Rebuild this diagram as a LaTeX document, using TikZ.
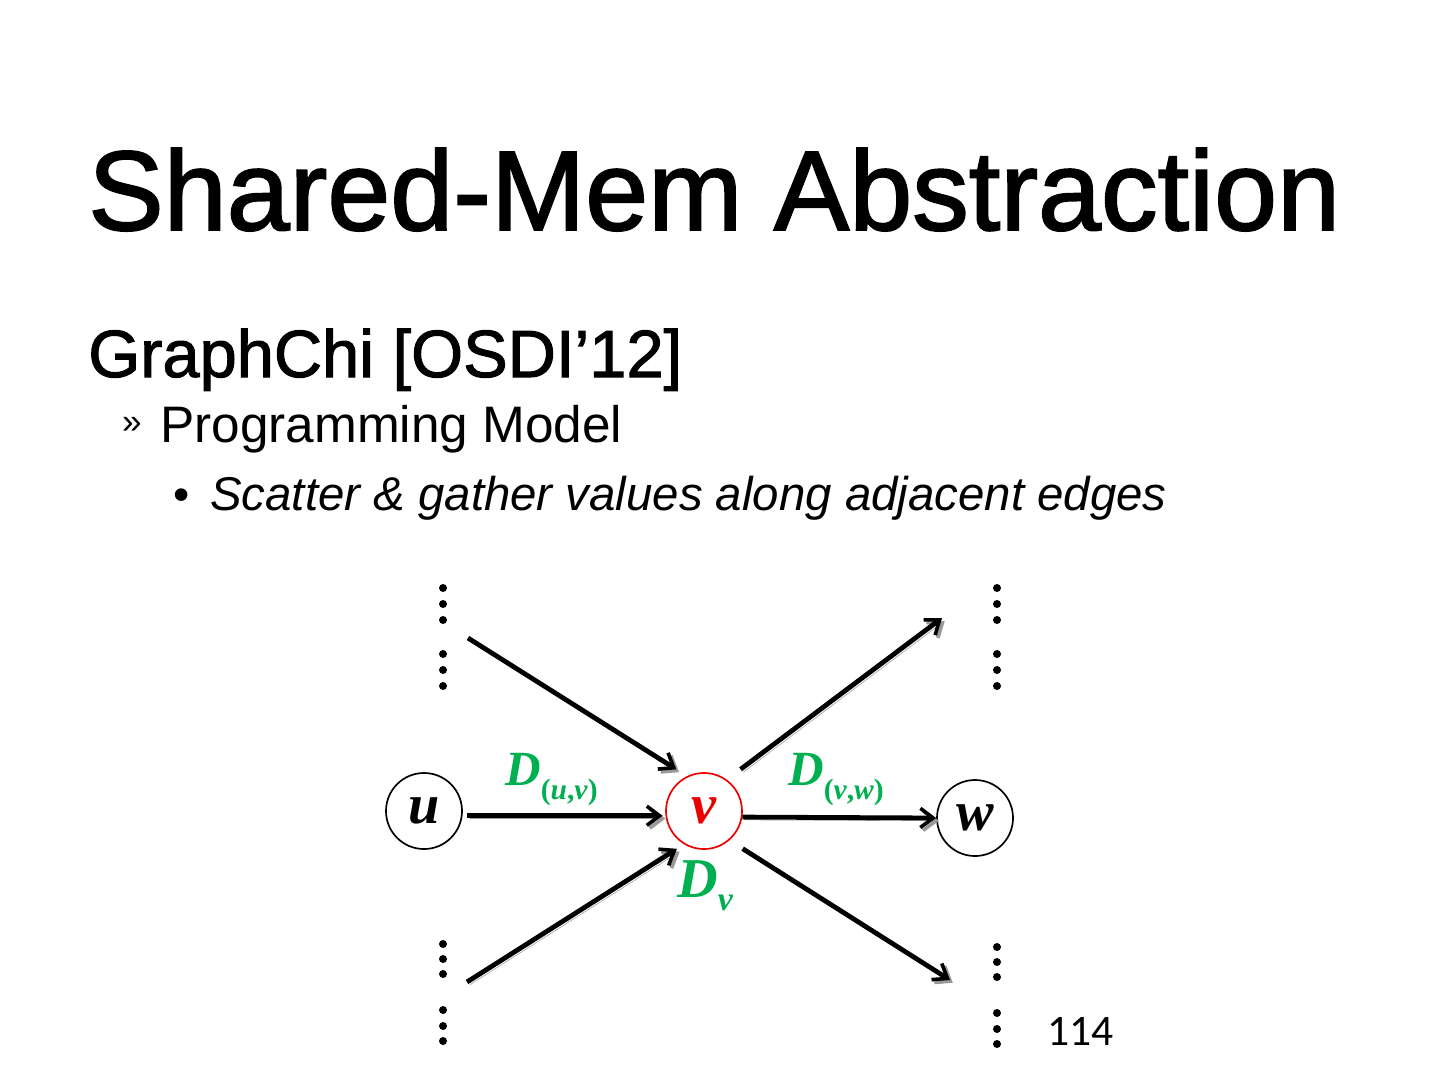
\documentclass[tikz,border=0pt]{standalone}
\usepackage{fontspec}
\setmainfont{Liberation Sans}
\newfontfamily\headfont{Liberation Sans}[FakeBold=1.6]
\newfontfamily\timesfont{Liberation Serif}
\newfontfamily\carlito{Carlito}
\usetikzlibrary{arrows.meta,positioning,calc}
\definecolor{dgreen}{RGB}{0,176,80}
\definecolor{vred}{RGB}{235,0,0}

\begin{document}
\begin{tikzpicture}[x=0.025cm, y=-0.025cm,
    vertex/.style={circle, draw, line width=1.2pt, minimum size=1.9cm, inner sep=0pt,
        font=\timesfont\bfseries\itshape\fontsize{40}{40}\selectfont},
    flow/.style={line width=0.12cm, -{Straight Barb[length=0.32cm,width=0.48cm,line width=0.09cm]},
        preaction={draw=black!40, transform canvas={shift={(0.07cm,-0.07cm)}}}},
    lbl/.style={text=dgreen, anchor=base west, inner sep=0pt,
        font=\timesfont\bfseries\itshape\fontsize{35}{35}\selectfont},
    txt/.style={anchor=base west, inner sep=0pt}]
    \useasboundingbox (0,0) rectangle (1440,1080);

    % heading and bullets
    \node[txt, font=\headfont\fontsize{80.5}{80}\selectfont] (title) at (88,230) {Shared-Mem Abstraction};
    \node[txt, font=\headfont\fontsize{47.5}{48}\selectfont] (sys) at (88,377) {GraphChi [OSDI’12]};
    \node[inner sep=0pt, font=\fontsize{25}{25}\selectfont] (chev) at (132,425) {»};
    \node[txt, font=\fontsize{36.5}{36}\selectfont] (model) at (160,442) {Programming Model};
    \node[txt, font=\fontsize{33}{33}\selectfont] (bul) at (173,510) {\textbullet};
    \node[txt, font=\itshape\fontsize{33.7}{33}\selectfont] (scatter) at (210,510) {Scatter \& gather values along adjacent edges};

    % vertices
    \node[vertex] (u) at (424,811) {u};
    \node[vertex, draw=vred, text=vred] (v) at (704,811) {v};
    \node[vertex] (w) at (975,818) {w};

    % loose ends of the other edges
    \coordinate (inA) at (468,638);
    \coordinate (inB) at (467,982);
    \coordinate (outA) at (942,618);
    \coordinate (outB) at (950,980);

    % edges in and out of v
    \draw[flow, shorten >=0.315cm] (inA) -- (v.116);
    \draw[flow, shorten <=0.12cm, shorten >=0.07cm] (u.-7) -- (v.187);
    \draw[flow, shorten >=0.21cm] (inB) -- (v.239);
    \draw[flow, shorten <=0.43cm] (v.54) -- (outA);
    \draw[flow] (v.-9) -- (w.west);
    \draw[flow, shorten <=0.39cm] (v.-49) -- (outB);

    % data labels
    \node[lbl] (duv) at (505,785) {D\raisebox{-0.36cm}{\fontsize{21}{21}\selectfont\upshape(\textit{u},\textit{v})}};
    \node[lbl] (dvw) at (788,785) {D\raisebox{-0.36cm}{\fontsize{21}{21}\selectfont\upshape(\textit{v},\textit{w})}};
    \node[lbl, font=\timesfont\bfseries\itshape\fontsize{40}{40}\selectfont] (dv) at (677,897) {D\raisebox{-0.33cm}{\fontsize{24}{24}\selectfont v}};

    % vertical dots
    \foreach \y in {588,604,620,654,670,686}{
        \fill (443,\y) circle (0.1cm);
        \fill (997,\y) circle (0.1cm);
    }
    \foreach \y in {944,959,974,1010,1026,1041}{
        \fill (443,\y) circle (0.1cm);
        \fill (997,\y+3) circle (0.1cm);
    }

    \node[txt, font=\carlito\fontsize{31}{31}\selectfont] (page) at (1047,1045) {114};
\end{tikzpicture}
\end{document}
